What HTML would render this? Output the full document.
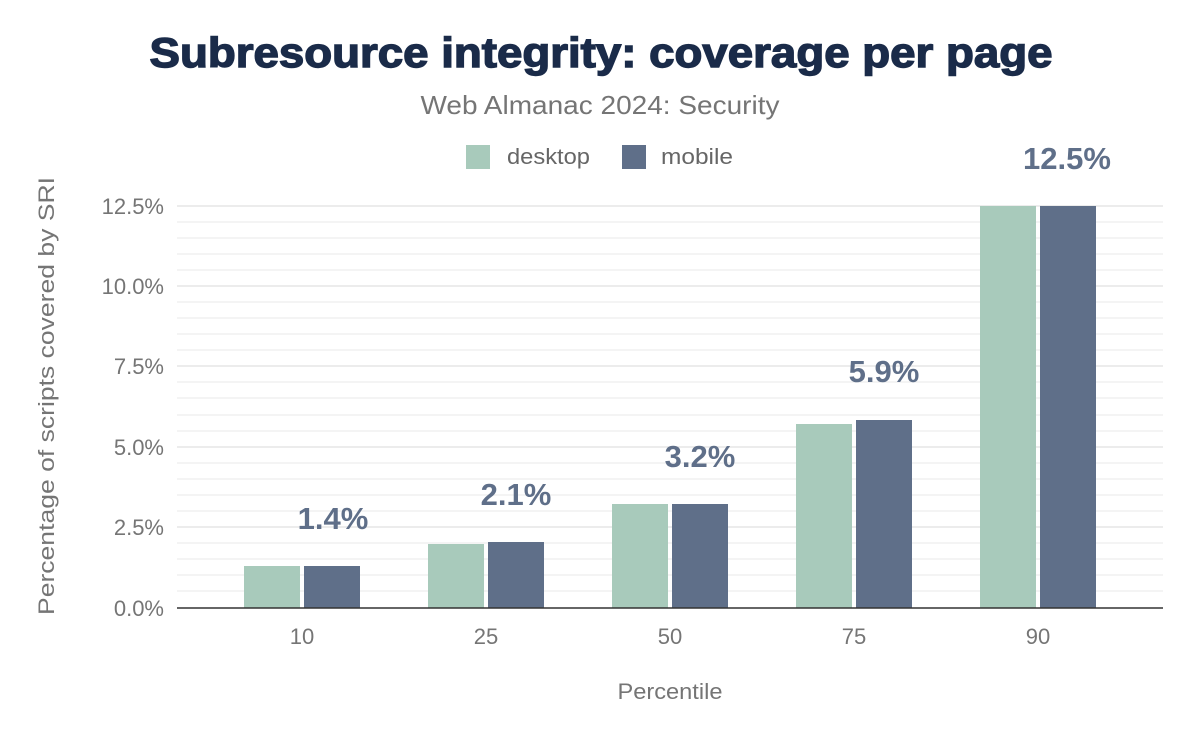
<!DOCTYPE html>
<html><head><style>
body{margin:0;background:#fff;}
svg{display:block;font-family:"Liberation Sans",Arial,sans-serif;}
</style></head><body>
<svg width="1200" height="742" viewBox="0 0 1200 742">
<text x="601" y="67" text-anchor="middle" font-size="42" font-weight="900" fill="#1a2b49" stroke="#1a2b49" stroke-width="1.4" textLength="903" lengthAdjust="spacingAndGlyphs">Subresource integrity: coverage per page</text>
<text x="600" y="114" text-anchor="middle" font-size="26" fill="#757575" textLength="359" lengthAdjust="spacingAndGlyphs">Web Almanac 2024: Security</text>
<rect x="466" y="145" width="24" height="24" fill="#a8cabb"/>
<text x="507" y="164" font-size="22" fill="#666" textLength="83" lengthAdjust="spacingAndGlyphs">desktop</text>
<rect x="622" y="145" width="24" height="24" fill="#5f6f89"/>
<text x="661" y="164" font-size="22" fill="#666" textLength="72" lengthAdjust="spacingAndGlyphs">mobile</text>
<g stroke="#f0f0f0" stroke-width="1.5">
<line x1="177" x2="1163" y1="222" y2="222"/><line x1="177" x2="1163" y1="238" y2="238"/><line x1="177" x2="1163" y1="254" y2="254"/><line x1="177" x2="1163" y1="270" y2="270"/>
<line x1="177" x2="1163" y1="302" y2="302"/><line x1="177" x2="1163" y1="318" y2="318"/><line x1="177" x2="1163" y1="334" y2="334"/><line x1="177" x2="1163" y1="350" y2="350"/>
<line x1="177" x2="1163" y1="382" y2="382"/><line x1="177" x2="1163" y1="398" y2="398"/><line x1="177" x2="1163" y1="415" y2="415"/><line x1="177" x2="1163" y1="431" y2="431"/>
<line x1="177" x2="1163" y1="463" y2="463"/><line x1="177" x2="1163" y1="479" y2="479"/><line x1="177" x2="1163" y1="495" y2="495"/><line x1="177" x2="1163" y1="511" y2="511"/>
<line x1="177" x2="1163" y1="543" y2="543"/><line x1="177" x2="1163" y1="559" y2="559"/><line x1="177" x2="1163" y1="575" y2="575"/><line x1="177" x2="1163" y1="591" y2="591"/>
</g>
<g stroke="#e6e6e6" stroke-width="1.5">
<line x1="177" x2="1163" y1="206" y2="206"/><line x1="177" x2="1163" y1="286" y2="286"/><line x1="177" x2="1163" y1="366" y2="366"/><line x1="177" x2="1163" y1="447" y2="447"/><line x1="177" x2="1163" y1="527" y2="527"/>
</g>
<g font-size="22" fill="#757575" text-anchor="end">
<text x="164" y="214">12.5%</text><text x="164" y="294">10.0%</text><text x="164" y="374">7.5%</text><text x="164" y="455">5.0%</text><text x="164" y="535">2.5%</text><text x="164" y="616">0.0%</text>
</g>
<g fill="#a8cabb">
<rect x="244" y="566" width="56" height="42"/><rect x="428" y="544" width="56" height="64"/><rect x="612" y="504" width="56" height="104"/><rect x="796" y="424" width="56" height="184"/><rect x="980" y="206" width="56" height="402"/>
</g>
<g fill="#5f6f89">
<rect x="304" y="566" width="56" height="42"/><rect x="488" y="542" width="56" height="66"/><rect x="672" y="504" width="56" height="104"/><rect x="856" y="420" width="56" height="188"/><rect x="1040" y="206" width="56" height="402"/>
</g>
<line x1="177" x2="1163" y1="608" y2="608" stroke="#333" stroke-width="1.5"/>
<g font-size="31" font-weight="bold" fill="#5f6f89" text-anchor="middle">
<text x="333" y="529">1.4%</text><text x="516" y="505">2.1%</text><text x="700" y="467">3.2%</text><text x="884" y="382">5.9%</text><text x="1067" y="169">12.5%</text>
</g>
<g font-size="22" fill="#757575" text-anchor="middle">
<text x="302" y="644">10</text><text x="486" y="644">25</text><text x="670" y="644">50</text><text x="854" y="644">75</text><text x="1038" y="644">90</text>
<text x="670" y="699" textLength="105" lengthAdjust="spacingAndGlyphs">Percentile</text>
<text transform="translate(54 396) rotate(-90)" textLength="438" lengthAdjust="spacingAndGlyphs">Percentage of scripts covered by SRI</text>
</g>
</svg>
</body></html>
